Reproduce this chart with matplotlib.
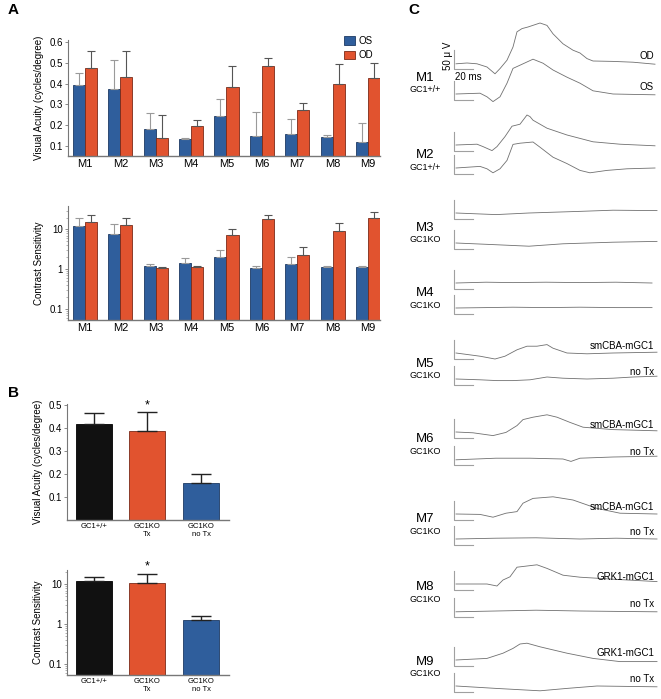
import matplotlib
matplotlib.use("Agg")
from matplotlib import pyplot as plt
import numpy as np

plt.rcParams['font.family'] = ['Liberation Sans', 'DejaVu Sans']

# ---- panel A data ----
mice = ['M1', 'M2', 'M3', 'M4', 'M5', 'M6', 'M7', 'M8', 'M9']
va_os = [0.392, 0.376, 0.183, 0.135, 0.246, 0.148, 0.156, 0.142, 0.119]
va_os_top = [0.453, 0.515, 0.26, 0.14, 0.326, 0.262, 0.231, 0.153, 0.21]
va_od = [0.477, 0.433, 0.14, 0.196, 0.385, 0.486, 0.271, 0.396, 0.427]
va_od_top = [0.557, 0.557, 0.25, 0.227, 0.486, 0.525, 0.307, 0.496, 0.499]
cs_os = [12.4, 7.8, 1.19, 1.42, 2.0, 1.08, 1.36, 1.12, 1.15]
cs_os_top = [19.3, 13.9, 1.34, 1.86, 3.07, 1.17, 1.97, 1.21, 1.23]
cs_od = [15.0, 13.1, 1.06, 1.1, 7.06, 17.9, 2.21, 9.4, 19.0]
cs_od_top = [23.4, 18.9, 1.12, 1.19, 10.0, 23.4, 3.52, 14.2, 28.0]

# ---- panel B data ----
groups = ['GC1+/+', 'GC1KO\nTx', 'GC1KO\nno Tx']
va_grp = [0.418, 0.389, 0.161]
va_grp_top = [0.464, 0.468, 0.2]
cs_grp = [11.9, 11.0, 1.28]
cs_grp_top = [15.0, 18.5, 1.62]

# ---- panel C data: VEP traces (time ms, amplitude uV) ----
m1_od_t = [0, 11, 21, 31, 39, 44, 51, 57, 61, 66, 72, 84, 91, 97, 107, 117, 124, 131, 137, 157, 177, 199]
m1_od_v = [-2, 0, -2, -10, -27, -14, 7, 40, 78, 86, 90, 100, 94, 73, 48, 32, 25, 11, 5, 4, 2, -3]
m1_os_t = [0, 24, 31, 37, 44, 51, 57, 64, 77, 87, 97, 111, 124, 137, 157, 177, 199]
m1_os_v = [0, 2, -7, -19, -7, 27, 64, 72, 87, 77, 60, 42, 27, 8, 0, -1, -2]
m2_od_t = [0, 21, 27, 36, 41, 49, 56, 64, 71, 74, 77, 91, 111, 137, 164, 199]
m2_od_v = [0, 2, -4, -14, -4, 21, 47, 52, 75, 71, 62, 42, 25, 8, 2, -2]
m2_os_t = [0, 24, 31, 37, 44, 51, 57, 64, 77, 84, 97, 111, 124, 134, 151, 171, 199]
m2_os_v = [0, 4, -2, -12, -2, 19, 59, 62, 65, 52, 27, 11, -6, -12, -6, -2, 0]
m3_od_t = [0, 40, 73, 123, 157, 201]
m3_od_v = [0, -4, 0, 4, 7, 6]
m3_os_t = [0, 37, 73, 107, 157, 201]
m3_os_v = [0, -4, -8, -2, 2, 4]
m4_od_t = [0, 30, 57, 90, 124, 160, 196]
m4_od_v = [0, 2, 1, 2, 1, 2, 0]
m4_os_t = [0, 30, 57, 90, 124, 160, 196]
m4_os_v = [0, 1, 2, 1, 2, 1, 1]
m5_od_t = [0, 24, 39, 49, 61, 71, 81, 91, 97, 111, 131, 157, 201]
m5_od_v = [0, -8, -15, -8, 8, 17, 17, 21, 12, 0, -2, 0, 2]
m5_os_t = [0, 24, 41, 57, 74, 91, 107, 131, 157, 177, 201]
m5_os_v = [0, -2, -4, -4, -2, 5, 2, 0, 2, 5, 7]
m6_od_t = [0, 17, 37, 50, 61, 67, 77, 91, 101, 114, 127, 157, 201]
m6_od_v = [0, -2, -9, -1, 16, 31, 37, 43, 37, 24, 12, 6, 3]
m6_os_t = [0, 40, 74, 107, 115, 124, 157, 201]
m6_os_v = [-2, 2, 2, 0, -6, 2, 5, 7]
m7_od_t = [0, 24, 37, 50, 61, 67, 77, 97, 117, 141, 164, 201]
m7_od_v = [0, -1, -8, 2, 6, 27, 39, 43, 35, 14, 2, 0]
m7_os_t = [0, 40, 80, 124, 160, 201]
m7_os_v = [0, 2, 3, 0, 2, 0]
m8_od_t = [0, 31, 41, 47, 54, 61, 71, 81, 91, 107, 124, 157, 201]
m8_od_v = [0, 0, -5, 10, 18, 42, 45, 48, 39, 22, 17, 12, 6]
m8_os_t = [0, 40, 80, 124, 160, 201]
m8_os_v = [-2, 0, 2, 0, -1, -2]
m9_od_t = [0, 31, 47, 57, 64, 71, 84, 111, 137, 164, 201]
m9_od_v = [0, 4, 17, 29, 40, 42, 33, 17, 4, -4, -4]
m9_os_t = [0, 40, 84, 111, 141, 201]
m9_os_v = [0, -6, -12, -6, 0, -2]

traces_od = [(m1_od_t, m1_od_v), (m2_od_t, m2_od_v), (m3_od_t, m3_od_v),
             (m4_od_t, m4_od_v), (m5_od_t, m5_od_v), (m6_od_t, m6_od_v),
             (m7_od_t, m7_od_v), (m8_od_t, m8_od_v), (m9_od_t, m9_od_v)]
traces_os = [(m1_os_t, m1_os_v), (m2_os_t, m2_os_v), (m3_os_t, m3_os_v),
             (m4_os_t, m4_os_v), (m5_os_t, m5_os_v), (m6_os_t, m6_os_v),
             (m7_os_t, m7_os_v), (m8_os_t, m8_os_v), (m9_os_t, m9_os_v)]
genotype = ['GC1+/+', 'GC1+/+', 'GC1KO', 'GC1KO', 'GC1KO', 'GC1KO', 'GC1KO', 'GC1KO', 'GC1KO']
od_label = ['OD', '', '', '', 'smCBA-mGC1', 'smCBA-mGC1', 'smCBA-mGC1', 'GRK1-mGC1', 'GRK1-mGC1']
os_label = ['OS', '', '', '', 'no Tx', 'no Tx', 'no Tx', 'no Tx', 'no Tx']

BLUE = '#2f5e9c'
ORANGE = '#e1532f'
W, H = 661, 699

# layout of panel C (pixel rows)
od_rows = [63, 145, 213, 283, 353, 432, 514, 584, 660]
os_rows = [94, 168, 243, 308, 379, 459, 539, 611, 686]
name_rows = [78, 155, 228, 293, 364, 439, 519, 587, 662]


def fig_rect(left, top, right, bottom):
    return [left / W, 1 - bottom / H, (right - left) / W, (bottom - top) / H]


def style_axes(ax):
    for s in ['top', 'right']:
        ax.spines[s].set_visible(False)
    ax.spines['left'].set_color('#777777')
    ax.spines['bottom'].set_color('#777777')
    ax.spines['left'].set_linewidth(0.8)
    ax.spines['bottom'].set_linewidth(1.0)
    ax.tick_params(axis='y', labelsize=7, length=2.5, width=0.6, color='#777777', pad=1)
    ax.tick_params(axis='y', which='minor', length=1.5, width=0.4, color='#777777')
    ax.tick_params(axis='x', length=0, pad=2)


def paired_bars(ax, os_vals, os_top, od_vals, od_top):
    x = np.arange(len(mice))
    w = 0.34
    ax.bar(x - w / 2, os_vals, w, color=BLUE, edgecolor='#1d3a63', linewidth=0.6, label='OS')
    ax.bar(x + w / 2, od_vals, w, color=ORANGE, edgecolor='#7a2a18', linewidth=0.6, label='OD')
    os_err = np.array(os_top) - np.array(os_vals)
    od_err = np.array(od_top) - np.array(od_vals)
    ax.errorbar(x - w / 2, os_vals, yerr=[np.zeros(len(x)), os_err], fmt='none',
                ecolor='#9a9a9a', elinewidth=0.8, capsize=3, capthick=0.8)
    ax.errorbar(x + w / 2, od_vals, yerr=[np.zeros(len(x)), od_err], fmt='none',
                ecolor='#555555', elinewidth=0.8, capsize=3, capthick=0.8)
    ax.set_xticks(x)
    ax.set_xticklabels(mice, fontsize=8)
    ax.set_xlim(-0.48, 8.34)
    style_axes(ax)


fig = plt.figure(figsize=(6.61, 6.99), dpi=100)

# A top
ax1 = fig.add_axes(fig_rect(68, 40, 380, 156))
paired_bars(ax1, va_os, va_os_top, va_od, va_od_top)
ax1.set_ylim(0.052, 0.61)
ax1.set_yticks([0.1, 0.2, 0.3, 0.4, 0.5, 0.6])
ax1.set_ylabel('Visual Acuity (cycles/degree)', fontsize=7)
ax1.legend(loc='upper left', bbox_to_anchor=(0.87, 1.08), frameon=False, fontsize=7,
           handlelength=1.1, handleheight=1.0, labelspacing=0.5, borderpad=0, handletextpad=0.4)

# A bottom
ax2 = fig.add_axes(fig_rect(68, 206, 380, 320))
paired_bars(ax2, cs_os, cs_os_top, cs_od, cs_od_top)
ax2.set_yscale('log')
ax2.set_ylim(0.052, 39)
ax2.set_yticks([0.1, 1, 10])
ax2.set_yticklabels(['0.1', '1', '10'])
ax2.set_ylabel('Contrast Sensitivity', fontsize=7)


def group_bars(ax, vals, tops):
    x = np.arange(len(groups))
    cols = ['#111111', ORANGE, BLUE]
    edges = ['#000000', '#7a2a18', '#1d3a63']
    ax.bar(x, vals, 0.67, color=cols, edgecolor=edges, linewidth=0.6)
    err = np.array(tops) - np.array(vals)
    ax.errorbar(x, vals, yerr=[np.zeros(len(x)), err], fmt='none', ecolor='#222222',
                elinewidth=1.0, capsize=7, capthick=1.0)
    ax.set_xticks(x)
    ax.set_xticklabels(groups, fontsize=5.5, linespacing=1.3)
    ax.set_xlim(-0.5, 2.52)
    style_axes(ax)
    ax.annotate('*', (1, tops[1]), xytext=(0, 1), textcoords='offset points',
                ha='center', va='bottom', fontsize=9)


# B top
ax3 = fig.add_axes(fig_rect(67, 404, 229, 520))
group_bars(ax3, va_grp, va_grp_top)
ax3.set_ylim(0, 0.505)
ax3.set_yticks([0.1, 0.2, 0.3, 0.4, 0.5])
ax3.set_ylabel('Visual Acuity (cycles/degree)', fontsize=7)

# B bottom
ax4 = fig.add_axes(fig_rect(67, 570, 229, 675))
group_bars(ax4, cs_grp, cs_grp_top)
ax4.set_yscale('log')
ax4.set_ylim(0.053, 23)
ax4.set_yticks([0.1, 1, 10])
ax4.set_yticklabels(['0.1', '1', '10'])
ax4.set_ylabel('Contrast Sensitivity', fontsize=7)

# C: traces, x in ms, y in pixel rows (uV scaled)
axc = fig.add_axes([380 / W, 0, (W - 380) / W, 1])
axc.set_xlim(-76, 205)
axc.set_ylim(H, 0)
axc.axis('off')
uv_per_row = 2.5
trace_col = '#707070'
bar_col = '#a0a0a0'
for i in range(9):
    for base, (t, v) in [(od_rows[i], traces_od[i]), (os_rows[i], traces_os[i])]:
        axc.plot(t, base - np.array(v) / uv_per_row, color=trace_col, lw=0.6)
        # scale bar: 50 uV / 20 ms
        axc.plot([-2, -2, 17], [base - 13, base + 6, base + 6], color=bar_col, lw=0.8)
    axc.text(-31, name_rows[i], mice[i], fontsize=9.5, ha='center', va='center')
    axc.text(-31, name_rows[i] + 12, genotype[i], fontsize=6.5, ha='center', va='center')
    if od_label[i]:
        axc.text(198, od_rows[i] - 7, od_label[i], fontsize=7, ha='right', va='center')
        axc.text(198, os_rows[i] - 7, os_label[i], fontsize=7, ha='right', va='center')

axc.text(-8, 56, '50 μ V', fontsize=7, rotation=90, ha='center', va='center')
axc.text(-1, 77, '20 ms', fontsize=7, ha='left', va='center')

# panel letters
fig.text(8 / W, 1 - 10 / H, 'A', fontsize=11, fontweight='bold', va='center')
fig.text(8 / W, 1 - 393 / H, 'B', fontsize=11, fontweight='bold', va='center')
fig.text(408 / W, 1 - 10 / H, 'C', fontsize=11, fontweight='bold', va='center')

fig.savefig('out.png', dpi=100)
